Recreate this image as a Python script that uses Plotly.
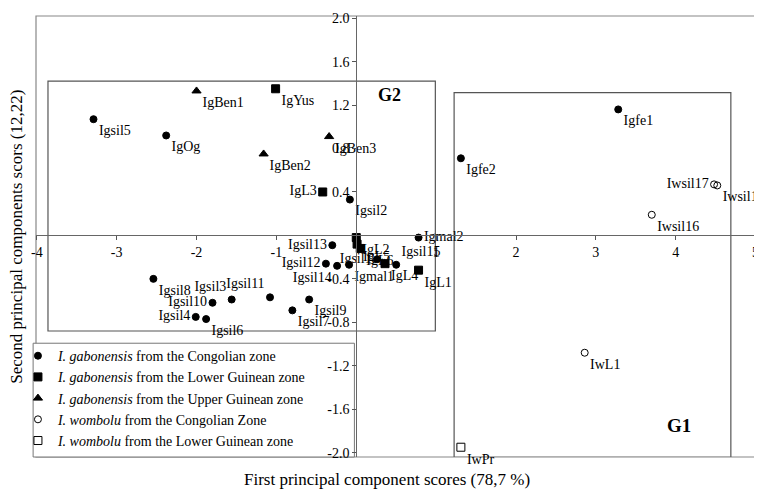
import plotly.graph_objects as go

# ---- data ----
cong_names = ["Igsil5", "IgOg", "Igsil2", "Igfe1", "Igfe2", "Igmal2", "Igsil13", "Igsil12",
              "Igsil14", "Igmal1", "Igsil1", "Igsil15", "Igsil11", "Igsil9", "Igsil7",
              "Igsil8", "Igsil3", "Igsil10", "Igsil4", "Igsil6"]
cong_x = [-3.29, -2.38, -0.08, 3.28, 1.31, 0.78, -0.30, -0.38, -0.24, -0.09, 0.26, 0.50,
          -1.08, -0.59, -0.80, -2.54, -1.56, -1.80, -2.01, -1.88]
cong_y = [1.07, 0.92, 0.33, 1.16, 0.71, -0.02, -0.09, -0.26, -0.28, -0.27, -0.22, -0.27,
          -0.57, -0.59, -0.69, -0.40, -0.59, -0.62, -0.75, -0.77]

lowg_names = ["IgYus", "IgL3", "IgL2", "IgL5", "IgL6", "IgL4", "IgL1"]
lowg_x = [-1.01, -0.42, 0.00, 0.01, 0.05, 0.36, 0.78]
lowg_y = [1.35, 0.40, -0.02, -0.08, -0.12, -0.26, -0.32]

upg_names = ["IgBen1", "IgBen2", "IgBen3"]
upg_x = [-2.00, -1.16, -0.34]
upg_y = [1.33, 0.75, 0.91]

womc_names = ["Iwsil16", "Iwsil17", "Iwsil18", "IwL1"]
womc_x = [3.70, 4.48, 4.52, 2.86]
womc_y = [0.19, 0.47, 0.46, -1.08]

woml_names = ["IwPr"]
woml_x = [1.31]
woml_y = [-1.95]

x_ticks = [-4, -3, -2, -1, 1, 2, 3, 4, 5]
y_ticks = [2.0, 1.6, 1.2, 0.8, 0.4, -0.4, -0.8, -1.2, -1.6, -2.0]
y_tick_text = ["2.0", "1.6", "1.2", "0.8", "0.4", "-0.4", "-0.8", "-1.2", "-1.6", "-2.0"]

# group boxes (data coordinates)
g2_box = dict(x0=-3.86, x1=0.99, y0=-0.88, y1=1.42)
g1_box = dict(x0=1.225, x1=4.69, y0=-2.05, y1=1.315)

# ---- styles ----
FONT = "Liberation Serif, Times New Roman, serif"
cong_pos = ["bottom right", "bottom right", "bottom right", "bottom right", "bottom right",
            "middle right", "middle left", "middle left", "bottom left", "bottom right",
            "middle left", "top right", "top left", "bottom right", "bottom right",
            "bottom right", "top left", "middle left", "middle left", "bottom right"]
lowg_pos = ["bottom right", "middle left", "bottom right", "bottom right", "bottom right",
            "bottom right", "bottom right"]
womc_pos = ["bottom right", "middle left", "bottom right", "bottom right"]

X_RANGE = [-4.01, 5.03]
Y_RANGE = [-2.04, 2.02]

fig = go.Figure()

def add(names, xs, ys, symbol, size, label, pos, open_=False):
    fig.add_trace(go.Scatter(
        x=xs, y=ys, mode="markers+text", text=names, textposition=pos,
        textfont=dict(family=FONT, size=14, color="black"),
        marker=dict(symbol=symbol, size=size,
                    color="white" if open_ else "black",
                    line=dict(color="#444" if open_ else "black", width=1)),
        name=label, cliponaxis=False,
    ))

add(cong_names, cong_x, cong_y, "circle", 7,
    "<i>I. gabonensis</i> from the Congolian zone", cong_pos)
add(lowg_names, lowg_x, lowg_y, "square", 8,
    "<i>I. gabonensis</i> from the Lower Guinean zone", lowg_pos)
add(upg_names, upg_x, upg_y, "triangle-up", 8,
    "<i>I. gabonensis</i> from the Upper Guinean zone", "bottom right")
add(womc_names, womc_x, womc_y, "circle-open", 7,
    "<i>I. wombolu</i> from the Congolian Zone", womc_pos)
add(woml_names, woml_x, woml_y, "square-open", 8,
    "<i>I. wombolu</i> from the Lower Guinean zone", "bottom right")

x_pos_frac = (0 - Y_RANGE[0]) / (Y_RANGE[1] - Y_RANGE[0])
y_pos_frac = (0 - X_RANGE[0]) / (X_RANGE[1] - X_RANGE[0])

# page body has an 8px margin, so the figure is sized to fit the window
fig.update_layout(
    width=754, height=485,
    margin=dict(l=28, r=3, t=6, b=36),
    paper_bgcolor="white", plot_bgcolor="white",
    font=dict(family=FONT, size=14, color="black"),
    xaxis=dict(range=X_RANGE, anchor="free", position=x_pos_frac,
               tickvals=x_ticks, ticktext=[str(v) for v in x_ticks],
               ticks="outside", ticklen=4, tickcolor="#555",
               showline=True, linecolor="#666", linewidth=1,
               showgrid=False, zeroline=False, ticklabeloverflow="allow",
               tickfont=dict(family=FONT, size=14, color="black")),
    yaxis=dict(range=Y_RANGE, anchor="free", position=y_pos_frac,
               tickvals=y_ticks, ticktext=y_tick_text,
               ticks="outside", ticklen=4, tickcolor="#555",
               showline=True, linecolor="#666", linewidth=1,
               showgrid=False, zeroline=False, ticklabeloverflow="allow",
               tickfont=dict(family=FONT, size=14, color="black")),
    legend=dict(x=-0.025, y=0.002, xanchor="left", yanchor="bottom",
                bgcolor="rgba(0,0,0,0)", borderwidth=0,
                font=dict(family=FONT, size=14, color="black"),
                itemwidth=30, tracegroupgap=0),
    showlegend=True,
)

# outer frame
fig.add_shape(type="rect", xref="paper", yref="paper", x0=0, x1=1, y0=0, y1=1,
              line=dict(color="#888", width=1.2), layer="below")
# group boxes
for b in (g2_box, g1_box):
    fig.add_shape(type="rect", xref="x", yref="y", line=dict(color="#555", width=1.2),
                  layer="below", **b)
# slight shadow under the G1 box bottom edge
fig.add_shape(type="line", xref="x", yref="y", x0=g1_box["x0"], x1=g1_box["x1"],
              y0=g1_box["y0"], y1=g1_box["y0"], line=dict(color="#777", width=2.5),
              layer="below")
# legend box
fig.add_shape(type="rect", xref="paper", yref="paper", x0=-0.004, x1=0.441, y0=0.0, y1=0.258,
              line=dict(color="#777", width=1), fillcolor="white", layer="below")

fig.add_annotation(x=0.41, y=1.29, xref="x", yref="y", text="<b>G2</b>", showarrow=False,
                   font=dict(family=FONT, size=18, color="black"))
fig.add_annotation(x=4.04, y=-1.75, xref="x", yref="y", text="<b>G1</b>", showarrow=False,
                   font=dict(family=FONT, size=19, color="black"))

fig.add_annotation(x=0.486, y=-0.052, xref="paper", yref="paper",
                   text="First principal component scores (78,7 %)", showarrow=False,
                   yanchor="middle", font=dict(family=FONT, size=17, color="black"))
fig.add_annotation(x=-0.0265, y=0.499, xref="paper", yref="paper", textangle=-90,
                   text="Second principal components scors (12,22)", showarrow=False,
                   xanchor="center", font=dict(family=FONT, size=17, color="black"))

fig.write_html("out.html")
